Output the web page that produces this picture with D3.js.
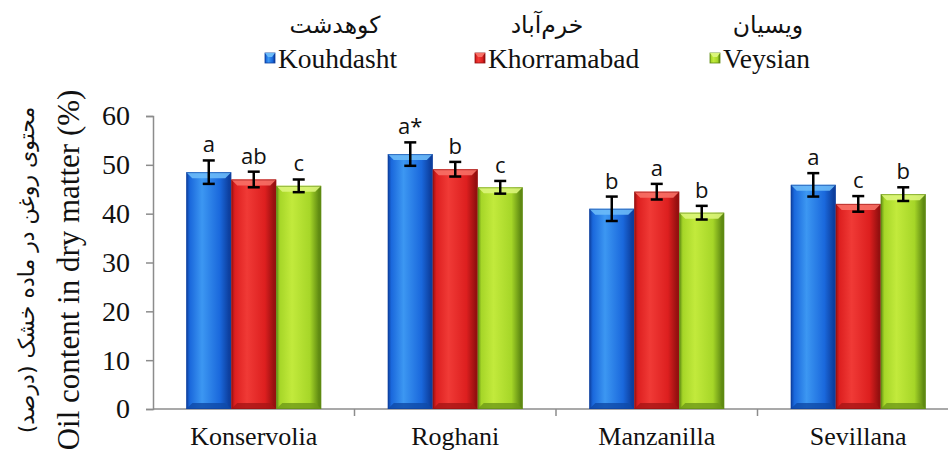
<!DOCTYPE html>
<html><head><meta charset="utf-8">
<script src="https://cdn.jsdelivr.net/npm/d3@7"></script>
<style>body{margin:0;background:#fff}svg{display:block}</style>
</head><body>
<svg id="c" width="948" height="452"></svg>
<script>
const categories = ["Konservolia","Roghani","Manzanilla","Sevillana"];
const seriesNames = ["Kouhdasht","Khorramabad","Veysian"];
const seriesNamesFa = ["کوهدشت","خرم‌آباد","ویسیان"];
const kouhdasht   = [48.5, 52.2, 41.0, 45.9];
const khorramabad = [47.0, 49.1, 44.5, 42.0];
const veysian     = [45.7, 45.4, 40.2, 44.0];
const errKouhdasht   = [2.4, 2.4, 2.5, 2.4];
const errKhorramabad = [1.6, 1.5, 1.6, 1.6];
const errVeysian     = [1.3, 1.3, 1.4, 1.4];
const lettersKouhdasht   = ["a","a*","b","a"];
const lettersKhorramabad = ["ab","b","a","c"];
const lettersVeysian     = ["c","c","b","b"];
const yTicks = [0,10,20,30,40,50,60];

const series = [
  {name:seriesNames[0], fa:seriesNamesFa[0], vals:kouhdasht, err:errKouhdasht, let:lettersKouhdasht,
   base:"#1a68dc", light:"#3c97f2", dark:"#0d3f9e", top:"#6cbaf8", bottom:"#0f4aa8"},
  {name:seriesNames[1], fa:seriesNamesFa[1], vals:khorramabad, err:errKhorramabad, let:lettersKhorramabad,
   base:"#dd1f1f", light:"#f03a36", dark:"#961010", top:"#f77066", bottom:"#a81515"},
  {name:seriesNames[2], fa:seriesNamesFa[2], vals:veysian, err:errVeysian, let:lettersVeysian,
   base:"#a6d628", light:"#c2ea3c", dark:"#5f8a12", top:"#dbf57a", bottom:"#6e9a18"}
];

const svg = d3.select("#c");
const x0 = d3.scaleBand().domain(categories).range([153, 959]).paddingInner(0).paddingOuter(0);
const x1 = d3.scaleBand().domain(seriesNames).range([0, x0.bandwidth()]).paddingInner(0).paddingOuter(0.74);
const y = d3.scaleLinear().domain([0,60]).range([409,116]);

const defs = svg.append("defs");
series.forEach((s,i)=>{
  const g = defs.append("linearGradient").attr("id","g"+i).attr("x1","0").attr("x2","1").attr("y1","0").attr("y2","0");
  g.append("stop").attr("offset","0").attr("stop-color",s.dark);
  g.append("stop").attr("offset","0.08").attr("stop-color",s.base);
  g.append("stop").attr("offset","0.35").attr("stop-color",s.light);
  g.append("stop").attr("offset","0.75").attr("stop-color",s.base);
  g.append("stop").attr("offset","0.95").attr("stop-color",s.dark);
  g.append("stop").attr("offset","1").attr("stop-color",s.dark);
});

const serif = "'Liberation Serif','Times New Roman',serif";

// axes
const yAxis = d3.axisLeft(y).tickValues(yTicks).tickSize(7).tickPadding(16);
const ya = svg.append("g").attr("transform","translate(153,0)").call(yAxis);
ya.attr("font-family",null).attr("font-size",null);
ya.select(".domain").attr("stroke","#8c8c8c").attr("stroke-width",1.5);
ya.selectAll(".tick line").attr("stroke","#8c8c8c").attr("stroke-width",1.5);
ya.selectAll(".tick text").style("font-family",serif).style("font-size","28px").attr("fill","#111");

const xa = svg.append("g").attr("transform","translate(0,409)");
xa.append("line").attr("x1",153).attr("x2",959).attr("y1",0).attr("y2",0).attr("stroke","#8c8c8c").attr("stroke-width",1.5);
xa.selectAll("line.tk").data(categories.slice(1)).enter().append("line")
  .attr("x1",d=>x0(d)).attr("x2",d=>x0(d)).attr("y1",0).attr("y2",7).attr("stroke","#8c8c8c").attr("stroke-width",1.5);
xa.selectAll("text").data(categories).enter().append("text")
  .attr("x",d=>x0(d)+x0.bandwidth()/2).attr("y",36).attr("text-anchor","middle")
  .style("font-family",serif).style("font-size","26px").attr("fill","#111").text(d=>d);

// bars
categories.forEach((c,ci)=>{
  series.forEach((s,si)=>{
    const bx = x0(c)+x1(s.name), bw = x1.bandwidth();
    const by = y(s.vals[ci]), by0 = y(0);
    const g = svg.append("g");
    g.append("rect").attr("x",bx).attr("y",by).attr("width",bw).attr("height",by0-by).attr("fill","url(#g"+si+")");
    const b = 6;
    g.append("polygon").attr("points",[[bx,by],[bx+bw,by],[bx+bw-b,by+b],[bx+b,by+b]].map(p=>p.join(",")).join(" "))
      .attr("fill",s.top).attr("opacity",0.9);
    g.append("polygon").attr("points",[[bx,by0],[bx+bw,by0],[bx+bw-b,by0-b],[bx+b,by0-b]].map(p=>p.join(",")).join(" "))
      .attr("fill",s.bottom).attr("opacity",0.8);
    g.append("rect").attr("x",bx+0.5).attr("y",by+0.5).attr("width",bw-1).attr("height",by0-by-1)
      .attr("fill","none").attr("stroke",s.dark).attr("stroke-width",1).attr("opacity",0.6);
    // error bar
    const cx = bx+bw/2, yt = y(s.vals[ci]+s.err[ci]), yb = y(s.vals[ci]-s.err[ci]);
    g.append("line").attr("x1",cx).attr("x2",cx).attr("y1",yt).attr("y2",yb).attr("stroke","#000").attr("stroke-width",2.5);
    [yt,yb].forEach(yy=>g.append("line").attr("x1",cx-6).attr("x2",cx+6).attr("y1",yy).attr("y2",yy).attr("stroke","#000").attr("stroke-width",2.5));
    g.append("text").attr("x",cx).attr("y",yt-8).attr("text-anchor","middle")
      .style("font-family","'Open Sans',sans-serif").style("font-size","22px").attr("fill","#111").text(s.let[ci]);
  });
});

// legend
const legX = [265, 475, 710];
const faX = [335, 547, 768];
series.forEach((s,i)=>{
  const lg = svg.append("g");
  lg.append("rect").attr("x",legX[i]).attr("y",53).attr("width",10).attr("height",10).attr("fill","url(#g"+i+")").attr("stroke",s.dark).attr("stroke-width",0.8);
  lg.append("polygon").attr("points",`${legX[i]},53 ${legX[i]+10},53 ${legX[i]+7},57 ${legX[i]+3},57`).attr("fill",s.top);
  lg.append("text").attr("x",legX[i]+13).attr("y",68).style("font-family",serif).style("font-size","27.5px").attr("fill","#111").text(s.name);
  lg.append("text").attr("x",faX[i]).attr("y",33).attr("text-anchor","middle").style("font-family","'DejaVu Sans',sans-serif").style("font-size","23.5px").attr("fill","#111").attr("direction","rtl").text(s.fa);
});

// y titles
svg.append("text").attr("transform","translate(79,270) rotate(-90)").attr("text-anchor","middle")
  .style("font-family",serif).style("font-size","31px").attr("fill","#111").text("Oil content in dry matter (%)");
svg.append("text").attr("transform","translate(34,270) rotate(-90)").attr("text-anchor","middle")
  .style("font-family","'DejaVu Sans',sans-serif").style("font-size","22px").attr("fill","#111").attr("direction","rtl").text("محتوی روغن در ماده خشک (درصد)");
</script>
</body></html>
